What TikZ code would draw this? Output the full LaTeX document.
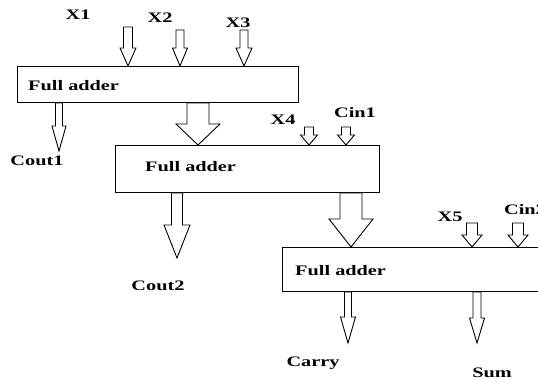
\documentclass[tikz,border=0pt]{standalone}
\usepackage{fontspec}
\setmainfont{Liberation Serif}[FakeStretch=1.4]
\usepackage{xcolor}
\usepackage{tikz}
\usetikzlibrary{calc}
\definecolor{negro}{HTML}{000000}
\tikzset{
  caja/.style={draw=negro,line width=0.9pt,fill=white,anchor=north west,inner sep=0pt},
  flechahueca/.style={draw=negro,line width=0.9pt,fill=white,line join=miter},
  etiqueta/.style={font=\fontsize{14.5}{16}\selectfont\bfseries,text=negro,inner sep=0pt},
}
\newcommand\flechabloque[5]{%
  \draw[flechahueca] let \p1=(#4), \p2=(#5) in
    (\x1-#1pt,\y1) -- (\x1-#1pt,\y2+#3pt) -- (\x1-#2pt,\y2+#3pt) -- (\x2,\y2)
    -- (\x1+#2pt,\y2+#3pt) -- (\x1+#1pt,\y2+#3pt) -- (\x1+#1pt,\y1) -- cycle;}

\begin{document}
\begin{tikzpicture}[x=1pt,y=-1pt]
  \useasboundingbox (0,0) rectangle (538,381);
  \clip (0,0) rectangle (538,381);
  \node[caja,minimum width=281pt,minimum height=36pt] (fa1) at (17,66) {};
  \node[caja,minimum width=264pt,minimum height=47pt] (fa2) at (115,145) {};
  \node[caja,minimum width=290pt,minimum height=44pt] (fa3) at (282,247) {};
  \node[etiqueta,anchor=west] (tfa1) at (28,86) {Full adder};
  \node[etiqueta,anchor=west] (tfa2) at (145,167) {Full adder};
  \node[etiqueta,anchor=west] (tfa3) at (295,271) {Full adder};
  \node[etiqueta] (lx1) at (78,15) {X1};
  \node[etiqueta] (lx2) at (160,18) {X2};
  \node[etiqueta] (lx3) at (238,23) {X3};
  \node[etiqueta] (lx4) at (283,120) {X4};
  \node[etiqueta] (lcin1) at (355,113) {Cin1};
  \node[etiqueta] (lx5) at (450,217) {X5};
  \node[etiqueta] (lcin2) at (525,210) {Cin2};
  \node[etiqueta] (lcout1) at (37,161) {Cout1};
  \node[etiqueta] (lcout2) at (158,286) {Cout2};
  \node[etiqueta] (lcarry) at (313,363) {Carry};
  \node[etiqueta] (lsum) at (492,373) {Sum};
  \coordinate (ex1) at (128,27);
  \coordinate (ex2) at (180,30);
  \coordinate (ex3) at (244,30);
  \coordinate (ex4) at (309,127);
  \coordinate (ecin1) at (346,127);
  \coordinate (ex5) at (472,223);
  \coordinate (ecin2) at (518,223);
  \coordinate (acarreo1) at (198,124);
  \coordinate (acarreo2) at (351,220);
  \coordinate (scout1) at (59,151);
  \coordinate (scout2) at (177,258);
  \coordinate (scarry) at (348,343);
  \coordinate (ssum) at (477,343);
  \flechabloque{4.5}{8}{18}{ex1}{fa1.north -| ex1}
  \flechabloque{4}{7.5}{18}{ex2}{fa1.north -| ex2}
  \flechabloque{4}{8}{18}{ex3}{fa1.north -| ex3}
  \flechabloque{4.5}{8.5}{10}{ex4}{fa2.north -| ex4}
  \flechabloque{4.5}{8.5}{10}{ecin1}{fa2.north -| ecin1}
  \flechabloque{5.5}{10}{12}{ex5}{fa3.north -| ex5}
  \flechabloque{5.5}{10}{12}{ecin2}{fa3.north -| ecin2}
  \flechabloque{3.5}{7}{25}{fa1.south -| scout1}{scout1}
  \flechabloque{11}{22}{21}{fa1.south -| acarreo1}{fa2.north -| acarreo1}
  \flechabloque{5.5}{13}{33}{fa2.south -| scout2}{scout2}
  \flechabloque{11}{22}{28}{fa2.south -| acarreo2}{fa3.north -| acarreo2}
  \flechabloque{3.5}{7.5}{26}{fa3.south -| scarry}{scarry}
  \flechabloque{4}{7.5}{25}{fa3.south -| ssum}{ssum}
\end{tikzpicture}
\end{document}
